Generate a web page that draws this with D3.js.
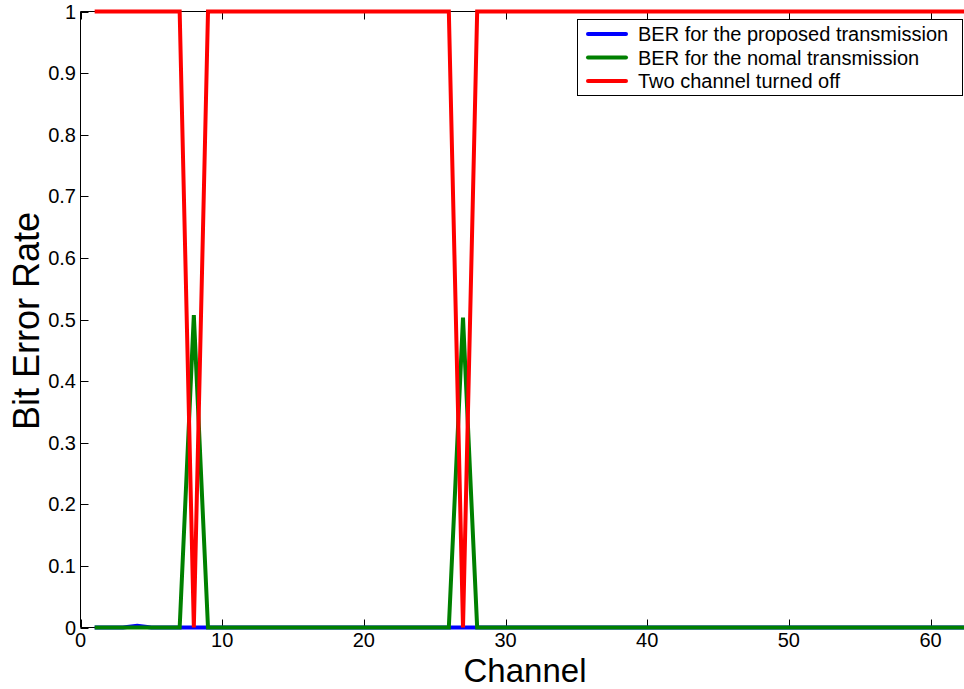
<!DOCTYPE html>
<html><head><meta charset="utf-8">
<script src="https://cdn.jsdelivr.net/npm/d3@7"></script>
<style>body{margin:0;background:#fff}svg{display:block}text{font-family:"Liberation Sans",Arial,sans-serif}</style>
</head><body><svg id="c" width="964" height="689"></svg>
<script>
const channels = d3.range(1, 64);
const seriesNames = ["BER for the proposed transmission","BER for the nomal transmission","Two channel turned off"];
const seriesColors = ["#0000ff","#008000","#ff0000"];
const offChannels = [8, 27];
const proposedBER = channels.map(c => c === 4 ? 0.003 : 0);
const normalPeaks = {8: 0.507, 27: 0.503};
const normalBER = channels.map(c => normalPeaks[c] !== undefined ? normalPeaks[c] : 0);
const turnedOff = channels.map(c => offChannels.includes(c) ? 0 : 1);
const xTicks = [0,10,20,30,40,50,60];
const yTicks = [0,0.1,0.2,0.3,0.4,0.5,0.6,0.7,0.8,0.9,1];

const svg = d3.select("#c");
const x = d3.scaleLinear().domain([0,63]).range([80.5,973]);
const y = d3.scaleLinear().domain([0,1]).range([627.5,11.5]);

svg.append("defs").append("clipPath").attr("id","clip").append("rect")
  .attr("x",80.5).attr("y",0).attr("width",900).attr("height",640);

const ax = svg.append("g").attr("stroke","#000").attr("stroke-width",1).attr("fill","none");
ax.append("line").attr("x1",80.5).attr("x2",80.5).attr("y1",11.5).attr("y2",627.5);
ax.append("line").attr("x1",80.5).attr("x2",973).attr("y1",627.5).attr("y2",627.5);
ax.append("line").attr("x1",80.5).attr("x2",973).attr("y1",11.5).attr("y2",11.5);

xTicks.forEach(t => {
  const xx = Math.round(x(t))+0.5;
  ax.append("line").attr("x1",xx).attr("x2",xx).attr("y1",627.5).attr("y2",619.5);
  ax.append("line").attr("x1",xx).attr("x2",xx).attr("y1",11.5).attr("y2",19.5);
  svg.append("text").attr("x",x(t)).attr("y",647).attr("text-anchor","middle").attr("font-size",20).text(t);
});
yTicks.forEach(t => {
  const yy = Math.round(y(t))+0.5;
  ax.append("line").attr("x1",80.5).attr("x2",88.5).attr("y1",yy).attr("y2",yy);
  svg.append("text").attr("x",76).attr("y",y(t)+7).attr("text-anchor","end").attr("font-size",20).text(+t.toFixed(1));
});

svg.append("text").attr("x",525).attr("y",682).attr("text-anchor","middle").attr("font-size",33).text("Channel");
svg.append("text").attr("transform","translate(39,321) rotate(-90)").attr("text-anchor","middle").attr("font-size",36).text("Bit Error Rate");

const line = d3.line().x((d,i) => x(channels[i])).y(d => y(d));
const g = svg.append("g").attr("clip-path","url(#clip)");
[proposedBER, normalBER, turnedOff].forEach((s,i) => {
  g.append("path").attr("d",line(s)).attr("fill","none").attr("stroke",seriesColors[i])
    .attr("stroke-width",4).attr("stroke-linejoin","miter").attr("stroke-miterlimit",10);
});

const lg = svg.append("g");
lg.append("rect").attr("x",577.5).attr("y",19.5).attr("width",385).attr("height",76).attr("fill","#fff").attr("stroke","#000").attr("stroke-width",1);
seriesNames.forEach((n,i) => {
  const yy = 34 + i*23.5;
  lg.append("line").attr("x1",588).attr("x2",626).attr("y1",yy).attr("y2",yy).attr("stroke",seriesColors[i]).attr("stroke-width",4).attr("stroke-linecap","round");
  lg.append("text").attr("x",638).attr("y",yy+7).attr("font-size",20).text(n);
});
</script></body></html>
